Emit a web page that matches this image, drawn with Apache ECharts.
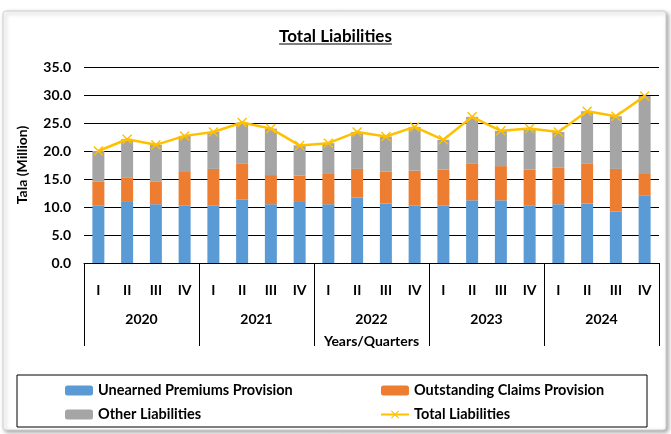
<!DOCTYPE html>
<html>
<head>
<meta charset="utf-8">
<script src="https://cdn.jsdelivr.net/npm/echarts@6/dist/echarts.min.js"></script>
<style>
  html, body { margin: 0; padding: 0; background: #fff; }
  #chart { width: 671px; height: 434px; }
</style>
</head>
<body>
<div id="chart"></div>
<script>
// values (Tala, million)
const quarters = ['I', 'II', 'III', 'IV', 'I', 'II', 'III', 'IV', 'I', 'II', 'III', 'IV', 'I', 'II', 'III', 'IV', 'I', 'II', 'III', 'IV'];
const years = ['2020', '2021', '2022', '2023', '2024'];
const unearned = [10.3, 10.9, 10.5, 10.3, 10.3, 11.3, 10.5, 10.9, 10.5, 11.7, 10.6, 10.3, 10.3, 11.2, 11.2, 10.3, 10.5, 10.6, 9.2, 12.0];
const outstanding = [4.2, 4.3, 4.0, 6.1, 6.5, 6.4, 5.2, 4.7, 5.4, 5.1, 5.7, 6.2, 6.4, 6.5, 6.1, 6.4, 6.5, 7.1, 7.6, 3.9];
const other = [5.5, 6.9, 6.6, 6.3, 6.6, 7.4, 8.3, 5.4, 5.5, 6.6, 6.3, 7.8, 5.3, 8.4, 6.3, 7.3, 6.4, 9.4, 9.4, 13.9];
const total = [20.0, 22.1, 21.1, 22.7, 23.4, 25.1, 24.0, 21.0, 21.4, 23.4, 22.6, 24.3, 22.0, 26.1, 23.6, 24.0, 23.4, 27.1, 26.2, 29.8];

const font = 'Lato';
const titleText = 'Total Liabilities';
const crossSymbol = 'path://M0,1 L1,0 L5,4 L9,0 L10,1 L6,5 L10,9 L9,10 L5,6 L1,10 L0,9 L4,5 Z';

// underline width follows the title text
const ctx = document.createElement('canvas').getContext('2d');
ctx.font = 'bold 17px ' + font;
const titleW = ctx.measureText(titleText).width;

const chart = echarts.init(document.getElementById('chart'));

const legendText = { fontFamily: font, fontSize: 14.5, fontWeight: 'bold', color: '#000' };

const option = {
    backgroundColor: '#fff',
    animation: false,
    textStyle: { fontFamily: font, color: '#000' },
    title: {
        text: titleText,
        left: 'center',
        top: 23,
        textStyle: { fontFamily: font, fontSize: 17, fontWeight: 'bold', color: '#000' }
    },
    graphic: [
        {
            type: 'rect',
            shape: { x: 3, y: 11, width: 663, height: 419, r: 3 },
            style: { fill: '#fff', stroke: '#d0d0d0', lineWidth: 1, shadowBlur: 4, shadowColor: 'rgba(0,0,0,0.35)', shadowOffsetX: 2, shadowOffsetY: 2 },
            z: -10
        },
        {
            type: 'line',
            shape: { x1: 335.5 - titleW / 2, y1: 44, x2: 335.5 + titleW / 2, y2: 44 },
            style: { stroke: '#000', lineWidth: 1.2 }
        },
        {
            type: 'rect',
            shape: { x: 17, y: 375, width: 630, height: 52 },
            style: { fill: 'none', stroke: '#000', lineWidth: 1 }
        }
    ],
    legend: [
        {
            data: ['Unearned Premiums Provision', 'Other Liabilities'],
            orient: 'vertical',
            left: 60,
            top: 378,
            itemGap: 9,
            itemWidth: 28,
            itemHeight: 10,
            textStyle: legendText
        },
        {
            data: ['Outstanding Claims Provision', 'Total Liabilities'],
            orient: 'vertical',
            left: 375,
            top: 378,
            itemGap: 9,
            itemWidth: 28,
            itemHeight: 10,
            textStyle: legendText
        }
    ],
    grid: { left: 84, right: 12, top: 67, bottom: 171, containLabel: false },
    xAxis: [
        {
            type: 'category',
            data: quarters,
            position: 'bottom',
            axisLine: { lineStyle: { color: '#000', width: 1 } },
            axisTick: { show: false },
            axisLabel: { margin: 20, fontFamily: font, fontSize: 14, fontWeight: 'bold', color: '#000' }
        },
        {
            type: 'category',
            data: years,
            position: 'bottom',
            axisLine: { show: false },
            axisTick: { show: true, length: 83, lineStyle: { color: '#000', width: 1 } },
            axisLabel: { margin: 49, fontFamily: font, fontSize: 14, fontWeight: 'bold', color: '#000' },
            name: 'Years/Quarters',
            nameLocation: 'middle',
            nameGap: 71,
            nameTextStyle: { fontFamily: font, fontSize: 14, fontWeight: 'bold', color: '#000' }
        }
    ],
    yAxis: {
        type: 'value',
        min: 0,
        max: 35,
        interval: 5,
        name: 'Tala (Million)',
        nameLocation: 'middle',
        nameGap: 55,
        nameTextStyle: { fontFamily: font, fontSize: 14, fontWeight: 'bold', color: '#000' },
        axisLine: { show: false },
        axisTick: { show: false },
        axisLabel: {
            margin: 13,
            fontFamily: font, fontSize: 14, fontWeight: 'bold', color: '#000',
            formatter: v => v.toFixed(1)
        },
        splitLine: { lineStyle: { color: '#000', width: 1.2 } }
    },
    series: [
        {
            name: 'Unearned Premiums Provision',
            type: 'bar',
            stack: 'tot',
            barWidth: 12,
            itemStyle: { color: '#5B9BD5' },
            data: unearned
        },
        {
            name: 'Outstanding Claims Provision',
            type: 'bar',
            stack: 'tot',
            barWidth: 12,
            itemStyle: { color: '#ED7D31' },
            data: outstanding
        },
        {
            name: 'Other Liabilities',
            type: 'bar',
            stack: 'tot',
            barWidth: 12,
            itemStyle: { color: '#A5A5A5' },
            data: other
        },
        {
            name: 'Total Liabilities',
            type: 'line',
            symbol: crossSymbol,
            symbolSize: 10,
            showAllSymbol: true,
            lineStyle: { color: '#FFC000', width: 2.5 },
            itemStyle: { color: '#FFC000' },
            data: total,
            z: 5
        }
    ]
};

chart.setOption(option);
</script>
</body>
</html>
